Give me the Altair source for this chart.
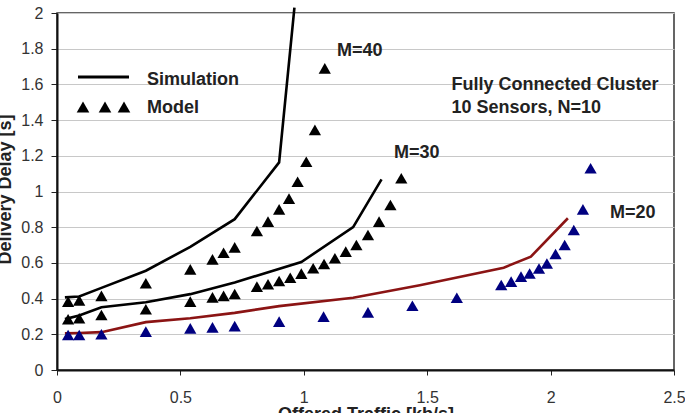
import altair as alt
import pandas as pd

# ---------------- data ----------------
# Simulation curves
sim40_x = [0.032, 0.09, 0.18, 0.36, 0.54, 0.72, 0.90, 0.962]
sim40_y = [0.407, 0.412, 0.460, 0.556, 0.690, 0.845, 1.163, 2.03]
sim30_x = [0.032, 0.09, 0.18, 0.36, 0.54, 0.72, 0.99, 1.20, 1.315]
sim30_y = [0.285, 0.305, 0.352, 0.380, 0.425, 0.490, 0.605, 0.800, 1.068]
sim20_x = [0.032, 0.09, 0.18, 0.36, 0.54, 0.72, 0.90, 1.20, 1.47, 1.81, 1.92, 2.07]
sim20_y = [0.205, 0.207, 0.212, 0.268, 0.290, 0.320, 0.358, 0.405, 0.475, 0.573, 0.635, 0.850]

# Model points
mod40_x = [0.045, 0.09, 0.18, 0.36, 0.54, 0.63, 0.675, 0.72, 0.81, 0.855, 0.90, 0.94,
           0.975, 1.01, 1.045, 1.085]
mod40_y = [0.383, 0.390, 0.415, 0.486, 0.564, 0.620, 0.657, 0.687, 0.779, 0.831, 0.900,
           0.960, 1.055, 1.167, 1.345, 1.690]
mod30_x = [0.045, 0.09, 0.18, 0.36, 0.54, 0.63, 0.675, 0.72, 0.81, 0.855, 0.90, 0.945,
           0.99, 1.038, 1.082, 1.126, 1.17, 1.213, 1.26, 1.305, 1.351, 1.395]
mod30_y = [0.284, 0.290, 0.308, 0.340, 0.383, 0.407, 0.415, 0.426, 0.467, 0.480, 0.499,
           0.517, 0.540, 0.570, 0.594, 0.626, 0.663, 0.700, 0.756, 0.831, 0.924, 1.074]
mod20_x = [0.045, 0.09, 0.18, 0.36, 0.54, 0.63, 0.72, 0.90, 1.08, 1.26, 1.44, 1.62,
           1.80, 1.84, 1.88, 1.915, 1.953, 1.985, 2.02, 2.057, 2.094, 2.131, 2.162]
mod20_y = [0.196, 0.196, 0.200, 0.215, 0.233, 0.239, 0.246, 0.271, 0.299, 0.323, 0.360,
           0.405, 0.476, 0.495, 0.523, 0.541, 0.569, 0.597, 0.650, 0.700, 0.784, 0.900, 1.130]

series_names = ["M=40", "M=30", "M=20"]
model_names = ["Model M=40", "Model M=30", "Model M=20"]
line_colors = ["#000000", "#000000", "#8b1414"]
point_colors = ["#000000", "#000000", "#000080"]

x_ticks = [0, 0.5, 1, 1.5, 2, 2.5]
y_ticks = [0, 0.2, 0.4, 0.6, 0.8, 1, 1.2, 1.4, 1.6, 1.8, 2]

# annotation texts (data coordinates)
ann_text = ["M=40", "M=30", "M=20"]
ann_x = [1.227, 1.458, 2.333]
ann_y = [1.759, 1.186, 0.850]
note_text = ["Fully Connected Cluster", "10 Sensors, N=10"]
note_x = [1.598, 1.598]
note_y = [1.569, 1.438]

FONT = "Liberation Sans"

# ---------------- tables ----------------
def table(xs, ys, name, col):
    return pd.DataFrame({"x": xs, "y": ys, col: name, "o": list(range(len(xs)))})

sim = pd.concat([table(sim40_x, sim40_y, series_names[0], "series"),
                 table(sim30_x, sim30_y, series_names[1], "series"),
                 table(sim20_x, sim20_y, series_names[2], "series")])
mod = pd.concat([table(mod40_x, mod40_y, model_names[0], "model"),
                 table(mod30_x, mod30_y, model_names[1], "model"),
                 table(mod20_x, mod20_y, model_names[2], "model")])
ann = pd.DataFrame({"t": ann_text, "x": ann_x, "y": ann_y})
notes = pd.DataFrame({"t": note_text, "x": note_x, "y": note_y})

xscale = alt.Scale(domain=[0, 2.5], nice=False, zero=False)
yscale = alt.Scale(domain=[0, 2], nice=False)

xaxis = alt.Axis(values=x_ticks, format="~g", grid=False, title="Offered Traffic [kb/s]",
                 titleY=49.5, titleBaseline="alphabetic", titleFontSize=18, titleFontWeight="bold",
                 titleFont=FONT, titleColor="#222222", labelFont=FONT, labelFontSize=16,
                 labelColor="#333333", labelPadding=14, tickSize=5, tickColor="#222222",
                 domainColor="#111111", domainWidth=2, labelFlush=False, labelOverlap=False)
yaxis = alt.Axis(values=y_ticks, format="~g", grid=True, gridColor="#c8c8c8", gridWidth=1,
                 title="Delivery Delay [s]", titleAngle=270, titleX=-47, titleY=176,
                 titleAlign="center", titleBaseline="alphabetic", titleFontSize=18,
                 titleFontWeight="bold", titleFont=FONT, titleColor="#222222",
                 labelFont=FONT, labelFontSize=16, labelColor="#333333", labelPadding=8,
                 tickSize=6, tickColor="#222222", domainColor="#111111", domainWidth=2,
                 labelOverlap=False)

X = alt.X("x:Q", scale=xscale, axis=xaxis, title="Offered Traffic [kb/s]")
Y = alt.Y("y:Q", scale=yscale, axis=yaxis, title="Delivery Delay [s]")

color_line = alt.Color("series:N", scale=alt.Scale(domain=series_names, range=line_colors),
                       legend=None)
color_pt = alt.Color("model:N", scale=alt.Scale(domain=model_names, range=point_colors),
                     legend=None)

lines = alt.Chart(sim).mark_line(strokeWidth=2.6).encode(
    x=X, y=Y, color=color_line, detail="series:N", order="o:Q")

points = alt.Chart(mod).mark_point(shape="triangle-up", filled=True, size=150, opacity=1,
                                   strokeWidth=0).encode(x=X, y=Y, color=color_pt)

ann_marks = alt.Chart(ann).mark_text(font=FONT, fontSize=18, fontWeight="bold",
                                     color="#222222", align="center",
                                     baseline="alphabetic").encode(x=X, y=Y, text="t:N")

note_marks = alt.Chart(notes).mark_text(font=FONT, fontSize=18, fontWeight="bold",
                                        color="#222222", align="left",
                                        baseline="alphabetic").encode(x=X, y=Y, text="t:N")

# ---------------- legend (drawn manually) ----------------
one = pd.DataFrame({"k": [0]})
leg_line = alt.Chart(one).mark_rule(color="#000000", strokeWidth=3).encode(
    x=alt.value(21), x2=alt.value(72), y=alt.value(64))
leg_tris = [alt.Chart(one).mark_point(shape="triangle-up", filled=True, size=160,
                                      color="#000000", opacity=1, strokeWidth=0).encode(
    x=alt.value(px), y=alt.value(94)) for px in (26, 48, 67)]
leg_txt1 = alt.Chart(one).mark_text(text="Simulation", font=FONT, fontSize=18,
                                    fontWeight="bold", color="#222222", align="left",
                                    baseline="alphabetic").encode(
    x=alt.value(90), y=alt.value(72))
leg_txt2 = alt.Chart(one).mark_text(text="Model", font=FONT, fontSize=18,
                                    fontWeight="bold", color="#222222", align="left",
                                    baseline="alphabetic").encode(
    x=alt.value(90), y=alt.value(99.5))

chart = alt.layer(lines, points, ann_marks, note_marks, leg_line, *leg_tris,
                  leg_txt1, leg_txt2).resolve_scale(color="independent").properties(
    width=617, height=357,
    padding={"left": 57, "top": 13, "right": 11, "bottom": 43},
    autosize=alt.AutoSizeParams(type="none"),
    background="#ffffff",
).configure_view(stroke="#333333", strokeWidth=1.5)

chart.save("out.html", embed_options={"renderer": "svg", "actions": False})
